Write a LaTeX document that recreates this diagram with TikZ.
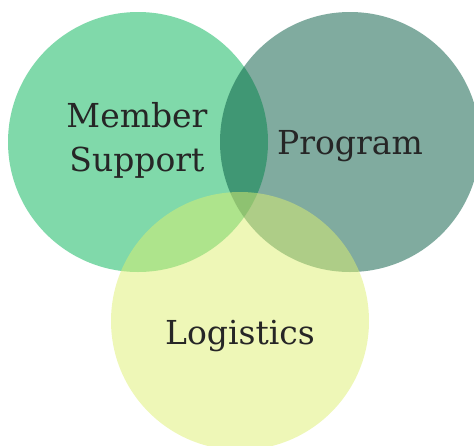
\documentclass[tikz,border=0pt]{standalone}
\usepackage{fontspec}
\setmainfont{DejaVu Serif}
\definecolor{cleft}{HTML}{01B355}
\definecolor{cright}{HTML}{01573F}
\definecolor{cbottom}{HTML}{DDEF6F}
\definecolor{ink}{HTML}{262626}
\begin{document}
\begin{tikzpicture}[x=1pt,y=-1pt,
  venn/.style={circle,minimum size=260pt,inner sep=0pt,fill opacity=0.5,draw=none},
  lbl/.style={text=ink,font=\fontsize{33}{44}\selectfont,align=center,inner sep=0pt}]
\useasboundingbox (0,0) rectangle (474,445);
\node[venn,fill=cleft] (member) at (138,142) {};
\node[venn,fill=cright] (program) at (350,142) {};
\node[venn,fill=cbottom,minimum size=258pt] (logistics) at (240,321) {};
\node[lbl,anchor=base] (tm) at (137,127) {Member};
\node[lbl,anchor=base] (ts) at (137,171) {Support};
\node[lbl,anchor=base] (tp) at (350,154) {Program};
\node[lbl,anchor=base] (tl) at (240,344) {Logistics};
\end{tikzpicture}
\end{document}
